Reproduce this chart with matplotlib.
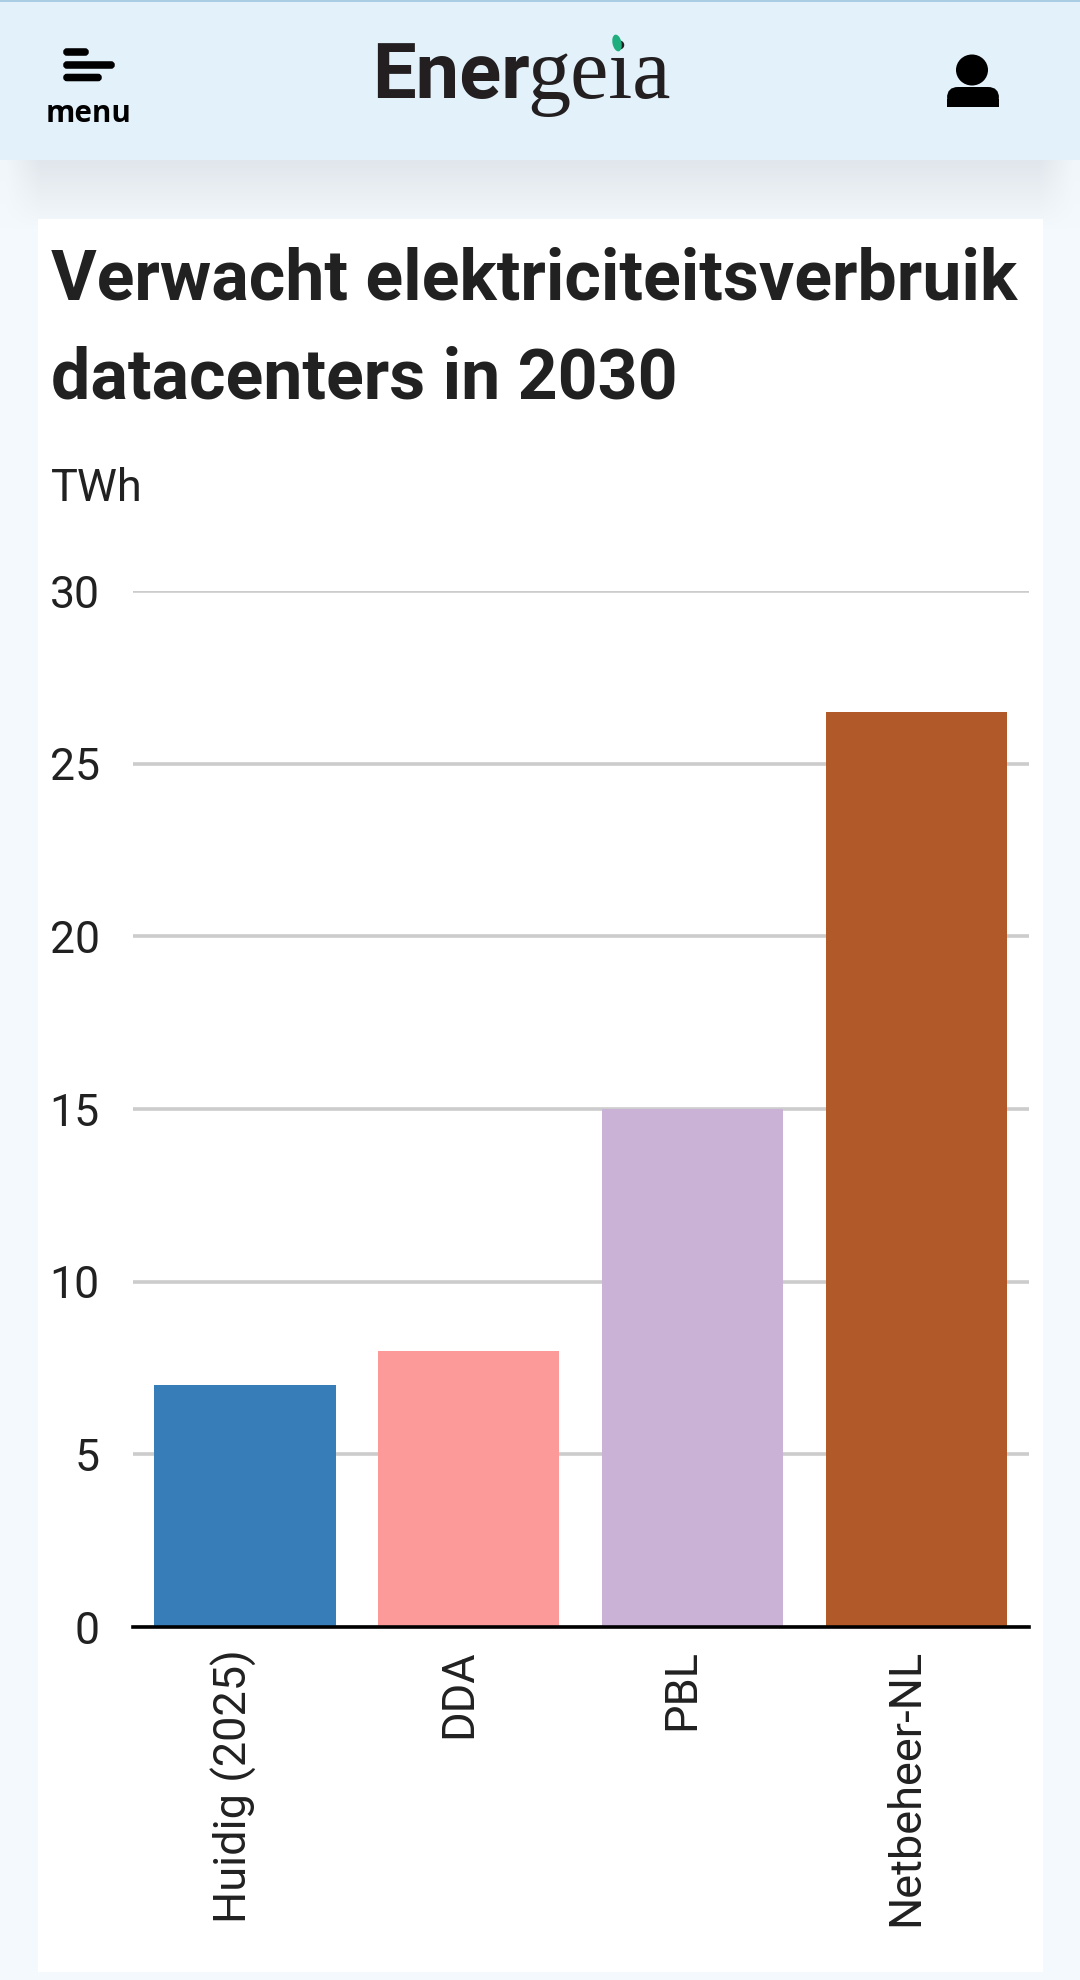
import numpy as np
import matplotlib
matplotlib.use("Agg")
import matplotlib.pyplot as plt
from matplotlib.patches import Rectangle, FancyBboxPatch, Ellipse
from matplotlib.transforms import ScaledTranslation

categories = ["Huidig (2025)", "DDA", "PBL", "Netbeheer-NL"]
values = [7, 8, 15, 26.5]
bar_colors = ["#377eb8", "#fb9a99", "#cab2d6", "#b15928"]
yticks = [0, 5, 10, 15, 20, 25, 30]
title_lines = ["Verwacht elektriciteitsverbruik", "datacenters in 2030"]
unit = "TWh"

W, H = 1080, 1980
plt.rcParams['font.family'] = ['Roboto', 'DejaVu Sans']
fig = plt.figure(figsize=(W/100, H/100), dpi=100, facecolor="#f4f9fd")

# page chrome in pixel coordinates
bg = fig.add_axes([0, 0, 1, 1], zorder=0)
bg.set_xlim(0, W); bg.set_ylim(H, 0); bg.axis("off")
vert = np.linspace(1, 0, 70)[:, None]
horiz = np.clip(np.minimum(np.arange(W), np.arange(W)[::-1]) / 40, 0.15, 1)[None, :]
shadow = np.zeros((70, W, 4))
shadow[..., :3] = np.array([0xe0, 0xe6, 0xeb]) / 255
shadow[..., 3] = vert * horiz
bg.imshow(shadow, extent=(0, W, 230, 160), aspect="auto", zorder=1)
bg.set_xlim(0, W); bg.set_ylim(H, 0)
bg.add_patch(Rectangle((0, 0), W, 160, fc="#e3f1fa", ec="none", zorder=2))
bg.add_patch(Rectangle((0, 0), W, 1.5, fc="#a9cde2", ec="none", zorder=3))
bg.add_patch(Rectangle((38, 219), 1005, 1753, fc="white", ec="none", zorder=3))

for (x0, x1, y0) in [(63, 89, 52), (63, 115, 65), (63, 102, 77.5)]:
    bg.add_patch(FancyBboxPatch((x0 + 3, y0 - 1), x1 - x0 - 6, 2,
                                boxstyle="round,pad=0,rounding_size=1", mutation_scale=1,
                                fc="black", ec="black", lw=4, zorder=4))
bg.text(89, 114, "menu", fontsize=21.3, fontweight="bold", family="Open Sans",
        color="black", ha="center", va="center", zorder=4)
bg.text(372, 98, "Ener", fontsize=56, fontweight="bold", family="Roboto",
        color="#231f20", ha="left", va="baseline", zorder=4)
bg.text(527, 98, "geia", fontsize=62, family="Liberation Serif",
        color="#231f20", ha="left", va="baseline", zorder=4)
bg.add_patch(Ellipse((617, 43), 9, 17, angle=-12, fc="#1fae7e", ec="none", zorder=5))
bg.add_patch(Ellipse((972, 70), 32, 31, fc="black", ec="none", zorder=4))
bg.add_patch(FancyBboxPatch((947, 87), 52, 20, boxstyle="round,pad=0,rounding_size=11",
                            fc="black", ec="none", zorder=4))
bg.add_patch(Rectangle((947, 99), 52, 8, fc="black", ec="none", zorder=4))

# page text
fig.text(51 / W, 1 - 280 / H, title_lines[0], fontsize=50.3, fontweight="bold",
         color="#212121", ha="left", va="center", zorder=6)
fig.text(51 / W, 1 - 379 / H, title_lines[1], fontsize=50.3, fontweight="bold",
         color="#212121", ha="left", va="center", zorder=6)
fig.text(51 / W, 1 - 489 / H, unit, fontsize=32.5, color="#212121", ha="left", va="center", zorder=6)

# chart
L, R, T, B = 133, 1028.5, 591, 1627
ax = fig.add_axes([L / W, 1 - B / H, (R - L) / W, (B - T) / H], zorder=5)
ax.patch.set_alpha(0)
x = np.arange(len(categories))
ax.bar(x, values, width=0.81, color=bar_colors, zorder=3)
ax.set_xlim(-0.5, len(categories) - 0.5)
ax.set_ylim(0, 30)
ax.set_yticks(yticks)
ax.set_xticks(x)
ax.set_xticklabels(categories, rotation=90, fontsize=32.5, color="#212121",
                   ha="right", va="baseline", rotation_mode="anchor")
ax.tick_params(axis="x", length=0, pad=16)
ax.tick_params(axis="y", length=0, pad=24, labelsize=32, labelcolor="#212121")
shift = ScaledTranslation(2 / 100, 0, fig.dpi_scale_trans)
for lab in ax.get_xticklabels():
    lab.set_transform(lab.get_transform() + shift)
ax.grid(axis="y", color="#cccccc", lw=2.6, zorder=1)
ax.set_axisbelow(True)
for s in ["top", "right", "left"]:
    ax.spines[s].set_visible(False)
ax.spines["bottom"].set_linewidth(2.6)
ax.spines["bottom"].set_color("black")
ax.spines["bottom"].set_zorder(4)

fig.savefig("out.png", dpi=100, facecolor=fig.get_facecolor())
